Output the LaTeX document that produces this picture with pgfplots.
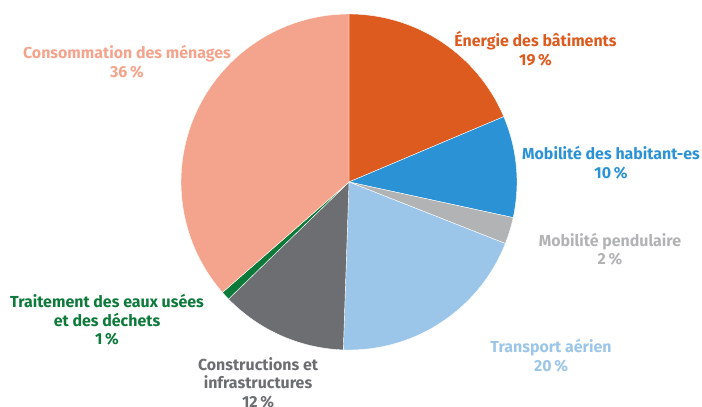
\documentclass[border=0pt]{standalone}
\usepackage{fontspec}
\setmainfont{Fira Sans}
\usepackage{pgfplots}
\pgfplotsset{compat=1.18}
\definecolor{cEn}{HTML}{DD5B1F}
\definecolor{cMob}{HTML}{2B93D5}
\definecolor{cPen}{HTML}{B2B3B5}
\definecolor{cTra}{HTML}{9CC6E9}
\definecolor{cCon}{HTML}{6D6E71}
\definecolor{cEau}{HTML}{0E7A3A}
\definecolor{cMen}{HTML}{F4A48C}
% cumulative shares (percent) of each slice, clockwise from 12 o'clock
% Energie 18.64, Mobilite habitants 9.76, pendulaire 2.57, aerien 19.57,
% constructions 12.19, eaux/dechets 0.85, menages 36.42
\newcommand{\slice}[3]{%
  \addplot[fill=#3, draw=white, line width=0.4pt, domain=90-3.6*#2:90-3.6*#1, samples=80, variable=\t]
    ({349+168*cos(\t)},{225+168*sin(\t)}) -- (axis cs:349,225) -- cycle;
}
\begin{document}
\begin{tikzpicture}
\useasboundingbox (0,0) rectangle (702bp,407bp);
\begin{axis}[at={(0,0)}, anchor=south west, width=702bp, height=407bp, scale only axis,
  xmin=0, xmax=702, ymin=0, ymax=407, hide axis, clip=false]
\slice{0}{18.64}{cEn}
\slice{18.64}{28.40}{cMob}
\slice{28.40}{30.97}{cPen}
\slice{30.97}{50.54}{cTra}
\slice{50.54}{62.73}{cCon}
\slice{62.73}{63.58}{cEau}
\slice{63.58}{100}{cMen}
\tikzset{lab/.style={align=center, font=\fontsize{16}{18.5}\selectfont\bfseries, inner sep=0pt}}
\node[lab, text=cMen] at (axis cs:127,345.5) {Consommation des ménages\\36\,\%};
\node[lab, text=cEn] at (axis cs:535.5,358.2) {Énergie des bâtiments\\19\,\%};
\node[lab, text=cMob] at (axis cs:611,244.5) {Mobilité des habitant-es\\10\,\%};
\node[lab, text=cPen] at (axis cs:610,158) {Mobilité pendulaire\\2\,\%};
\node[lab, text=cTra] at (axis cs:551,51.5) {Transport aérien\\20\,\%};
\node[lab, text=cCon] at (axis cs:258,24.5) {Constructions et\\infrastructures\\12\,\%};
\node[lab, text=cEau] at (axis cs:107,87.3) {Traitement des eaux usées\\et des déchets\\1\,\%};
\end{axis}
\end{tikzpicture}
\end{document}
